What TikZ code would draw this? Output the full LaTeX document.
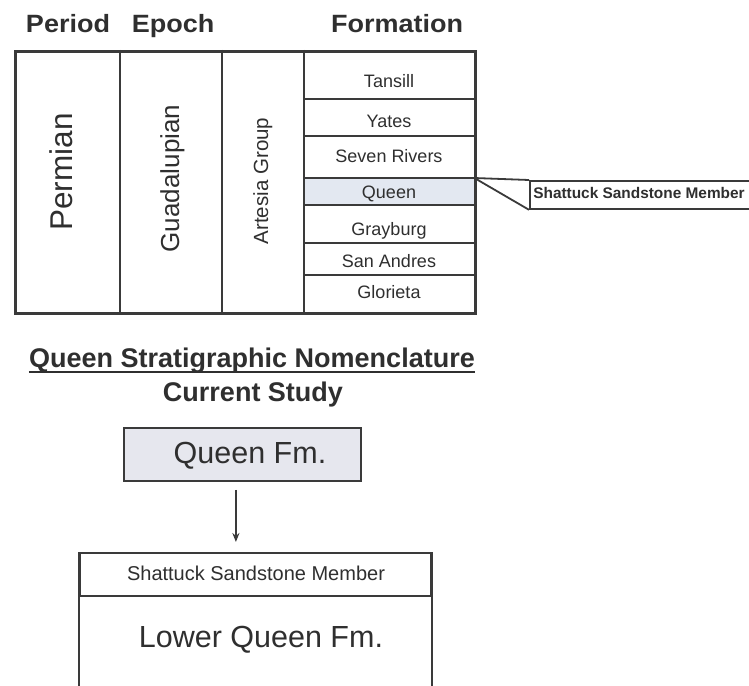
\documentclass[tikz,border=0pt]{standalone}
\usepackage{fontspec}
\setmainfont{Liberation Sans}
\usetikzlibrary{arrows.meta}
\definecolor{ink}{HTML}{2F2F2F}
\definecolor{lncol}{HTML}{3A3A3A}
\definecolor{qfill}{HTML}{E3E8F1}
\definecolor{qbox}{HTML}{E6E7EE}
\newcommand{\fsz}[1]{\fontsize{#1}{#1}\selectfont}
\begin{document}
\begin{tikzpicture}[x=1pt,y=-1pt,
  txt/.style={inner sep=0pt,text=ink,anchor=base},
  hdr/.style={txt,font=\fsz{25}\bfseries},
  fm/.style={txt,font=\fsz{18}},
  thin/.style={draw=lncol,line width=1.8pt},
  cell/.style={draw=lncol,line width=1.8pt,inner sep=0pt,anchor=north west}]
\useasboundingbox (0,0) rectangle (749,685);
\fill[white] (0,0) rectangle (749,685);
% headers
\node[hdr] (hper) at (68,33) {\scalebox{1.08}[1]{Period}};
\node[hdr] (hepo) at (173,33) {\scalebox{1.08}[1]{Epoch}};
\node[hdr] (hfor) at (397,33) {\scalebox{1.08}[1]{Formation}};
% queen row fill
\node[fill=qfill,inner sep=0pt,minimum width=170pt,minimum height=27pt,anchor=north west] (queenrow) at (304,178) {};
% table
\draw[thin] (120,50) -- (120,312);
\draw[thin] (222,50) -- (222,312);
\draw[thin] (304,50) -- (304,312);
\foreach \yy in {99,136,178,205,243,275} \draw[thin] (304,\yy) -- (474,\yy);
\node[draw=lncol,line width=2.8pt,inner sep=0pt,minimum width=460pt,minimum height=262pt,anchor=north west] (tbl) at (14,50) {};
% vertical labels
\node[txt,rotate=90,font=\fsz{31.5}] (perm) at (72,172) {Permian};
\node[txt,rotate=90,font=\fsz{26}] (guad) at (179,178.5) {Guadalupian};
\node[txt,rotate=90,font=\fsz{20.5}] (arte) at (268,181) {Artesia Group};
% formations
\node[fm] (tans) at (389,88) {Tansill};
\node[fm] (yate) at (389,127) {Yates};
\node[fm] (seve) at (389,162) {Seven Rivers};
\node[fm] (quee) at (389,198) {Queen};
\node[fm] (gray) at (389,235) {Grayburg};
\node[fm] (sana) at (389,267) {San Andres};
\node[fm] (glor) at (389,298) {Glorieta};
% callout
\node[cell,minimum width=240pt,minimum height=28pt] (sbox) at (529,180) {};
\node[txt,font=\fsz{15.4}\bfseries] (stxt) at (639,198) {Shattuck Sandstone Member};
\draw[thin] (queenrow.north east) -- (sbox.north west);
\draw[thin] (queenrow.north east) -- (sbox.south west);
% lower part
\node[txt,font=\fsz{27}\bfseries] (title) at (252,367) {Queen Stratigraphic Nomenclature};
\draw[draw=ink,line width=2pt] ([yshift=-5pt]title.base west) -- ([yshift=-5pt]title.base east);
\node[txt,font=\fsz{27}\bfseries] (curr) at (253,401) {Current Study};
\node[cell,fill=qbox,minimum width=237pt,minimum height=53pt] (qfm) at (123,427) {};
\node[txt,font=\fsz{30.5}] (qfmt) at (250,463) {Queen Fm.};
\node[cell,minimum width=351pt,minimum height=43pt] (lbtop) at (79,552) {};
\draw[thin] (lbtop.north west) -- ++(0,150);
\draw[thin] (lbtop.north east) -- ++(0,150);
\node[txt,font=\fsz{20}] (shat) at (256,580) {Shattuck Sandstone Member};
\node[txt,font=\fsz{30.5}] (lqf) at (261,647) {Lower Queen Fm.};
\draw[draw=lncol,line width=1.6pt,-{Stealth[length=9pt,width=7pt]}] ([xshift=-6.5pt,yshift=-8pt]qfm.south) -- ([xshift=-19.5pt,yshift=10pt]lbtop.north);
\end{tikzpicture}
\end{document}
